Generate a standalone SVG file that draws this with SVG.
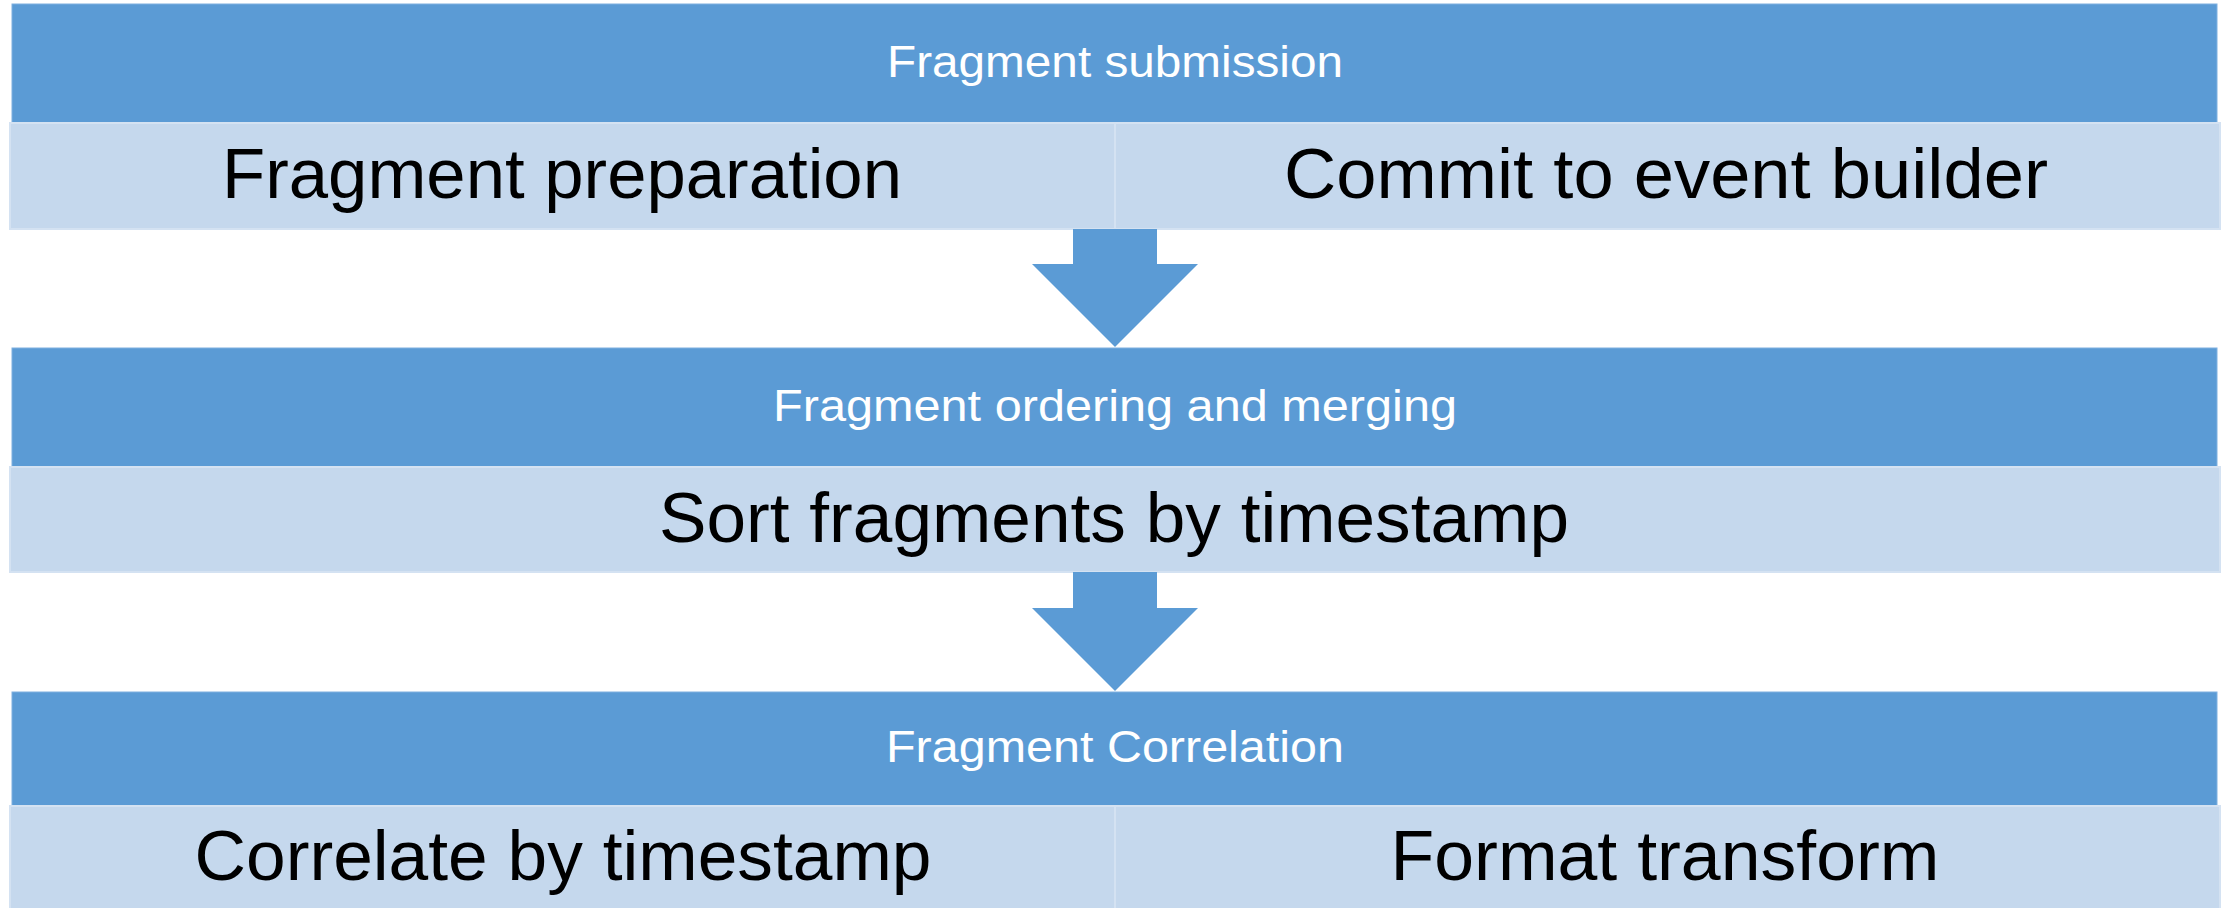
<svg xmlns="http://www.w3.org/2000/svg" width="2231" height="908" viewBox="0 0 2231 908">
  <style>
    .hdr { fill: #5B9BD5; stroke: #7FB0E0; stroke-width: 1; }
    .cell { fill: #C5D8ED; stroke: #D4E2F2; stroke-width: 2; }
    .arrow { fill: #5B9BD5; stroke: none; }
    .ht { font-family: "Liberation Sans", "Open Sans", sans-serif; font-size: 44px; fill: #FFFFFF; text-anchor: middle; }
    .ct { font-family: "Liberation Sans", "Open Sans", sans-serif; font-size: 70px; fill: #000000; text-anchor: middle; }
  </style>
  <rect x="0" y="0" width="2231" height="908" fill="#FFFFFF"/>

  <g id="stage1">
    <rect class="hdr" x="12" y="4" width="2205" height="119"/>
    <text class="ht" x="1115" y="77" textLength="456" lengthAdjust="spacingAndGlyphs">Fragment submission</text>
    <g id="stage1-prep">
      <rect class="cell" x="10" y="123" width="1105" height="106"/>
      <text class="ct" x="562" y="198" textLength="680" lengthAdjust="spacingAndGlyphs">Fragment preparation</text>
    </g>
    <g id="stage1-commit">
      <rect class="cell" x="1115" y="123" width="1105" height="106"/>
      <text class="ct" x="1666" y="198" textLength="764" lengthAdjust="spacingAndGlyphs">Commit to event builder</text>
    </g>
  </g>

  <g id="stage2">
    <rect class="hdr" x="12" y="348" width="2205" height="119"/>
    <text class="ht" x="1115" y="421" textLength="684" lengthAdjust="spacingAndGlyphs">Fragment ordering and merging</text>
    <g id="stage2-sort">
      <rect class="cell" x="10" y="467" width="2210" height="105"/>
      <text class="ct" x="1114" y="542" textLength="910" lengthAdjust="spacingAndGlyphs">Sort fragments by timestamp</text>
    </g>
  </g>

  <g id="stage3">
    <rect class="hdr" x="12" y="692" width="2205" height="114"/>
    <text class="ht" x="1115" y="762" textLength="458" lengthAdjust="spacingAndGlyphs">Fragment Correlation</text>
    <g id="stage3-correlate">
      <rect class="cell" x="10" y="806" width="1105" height="104"/>
      <text class="ct" x="563" y="880" textLength="737" lengthAdjust="spacingAndGlyphs">Correlate by timestamp</text>
    </g>
    <g id="stage3-format">
      <rect class="cell" x="1115" y="806" width="1105" height="104"/>
      <text class="ct" x="1665" y="880" textLength="549" lengthAdjust="spacingAndGlyphs">Format transform</text>
    </g>
  </g>

  <g id="connectors">
    <polygon class="arrow" points="1073,229 1157,229 1157,264 1198,264 1115,347 1032,264 1073,264"/>
    <polygon class="arrow" points="1073,572 1157,572 1157,608 1198,608 1115,691 1032,608 1073,608"/>
  </g>
</svg>
